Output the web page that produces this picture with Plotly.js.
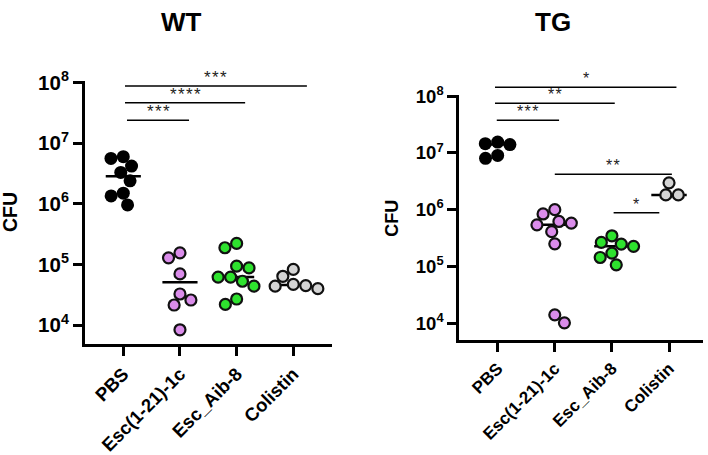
<!DOCTYPE html>
<html>
<head>
<meta charset="utf-8">
<script src="https://cdn.plot.ly/plotly-3.0.1.min.js"></script>
<style>
  html, body { margin: 0; padding: 0; background: #ffffff; }
  #chart { width: 708px; height: 455px; }
</style>
</head>
<body>
<div id="chart"></div>
<script>
// Treatment groups (x categories)
const groups = ['PBS', 'Esc(1-21)-1c', 'Esc_Aib-8', 'Colistin'];

// WT mice: CFU per animal
const wtPBS      = [6.0e6, 5.6e6, 4.2e6, 3.3e6, 2.4e6, 1.5e6, 1.35e6, 9.6e5];
const wtEsc1c    = [1.56e5, 1.29e5, 7.0e4, 3.27e4, 2.6e4, 2.15e4, 8.4e3];
const wtAib8     = [2.23e5, 1.89e5, 9.4e4, 8.8e4, 6.2e4, 5.3e4, 6.2e4, 4.4e4, 2.7e4, 2.2e4];
const wtColistin = [8.3e4, 6.4e4, 4.7e4, 4.5e4, 4.4e4, 4.0e4];
const wtCenter   = [2.85e6, 5.1e4, 6.2e4, 4.6e4];

// TG mice: CFU per animal
const tgPBS      = [1.45e7, 1.40e7, 1.55e7, 9.0e6, 8.0e6];
const tgEsc1c    = [1.0e6, 8.4e5, 6.2e5, 5.4e5, 5.8e5, 4.1e5, 2.5e5, 1.41e4, 1.02e4];
const tgAib8     = [3.47e5, 2.65e5, 2.48e5, 2.26e5, 1.72e5, 1.44e5, 1.07e5];
const tgColistin = [2.97e6, 1.82e6, 1.82e6];
const tgCenter   = [1.40e7, 5.4e5, 2.26e5, 1.82e6];

// Pairwise comparisons (group indices) and their significance
const wtSig = [
  { from: 0, to: 3, label: '***' },
  { from: 0, to: 2, label: '****' },
  { from: 0, to: 1, label: '***' }
];
const tgSig = [
  { from: 0, to: 3, label: '*' },
  { from: 0, to: 2, label: '**' },
  { from: 0, to: 1, label: '***' },
  { from: 1, to: 3, label: '**' },
  { from: 2, to: 3, label: '*' }
];

// ---- styling / geometry ----
const W = 708, H = 455;
const FONT = 'Liberation Sans, Arial, Helvetica, sans-serif';
const fillColors = ['#000000', '#da8cea', '#2ee22e', '#d4d4d4'];
const edgeColors = ['#000000', '#111111', '#111111', '#111111'];

const panels = [
  {
    name: 'WT', sets: [wtPBS, wtEsc1c, wtAib8, wtColistin], center: wtCenter, sig: wtSig,
    box: { left: 85, right: 332, top: 80.7, bottom: 344 },
    xRange: [-0.676, 3.683], yRange: [3.69, 8.03],
    tickSize: 20.5, catSize: 18.5, titleSize: 26, cfuSize: 19.5, starSize: 17,
    title: { x: 181, y: 22 }, cfu: { x: 10, y: 212 },
    // bracket rows: pixel height and horizontal pads (category units)
    bars: [
      { y: 86,    pad0: 0.03,  pad1: 0.24 },
      { y: 102.7, pad0: 0.03,  pad1: 0.15 },
      { y: 120.3, pad0: 0.065, pad1: 0.16 }
    ]
  },
  {
    name: 'TG', sets: [tgPBS, tgEsc1c, tgAib8, tgColistin], center: tgCenter, sig: tgSig,
    box: { left: 459.3, right: 703, top: 95, bottom: 340 },
    xRange: [-0.672, 3.595], yRange: [3.706, 8.018],
    tickSize: 18.5, catSize: 17, titleSize: 26, cfuSize: 18, starSize: 16,
    title: { x: 553, y: 22 }, cfu: { x: 391.7, y: 218 },
    bars: [
      { y: 87.3,  pad0: -0.047, pad1: 0.13 },
      { y: 103.3, pad0: -0.047, pad1: 0.05 },
      { y: 120.3, pad0: -0.016, pad1: 0.075 },
      { y: 174.3, pad0: 0.0,    pad1: 0.05 },
      { y: 212.7, pad0: 0.03,   pad1: -0.17 }
    ]
  }
];

// Greedy beeswarm: place each point at the smallest horizontal offset
// that does not overlap the dots already placed (pixel space).
function swarmOffsets(values, pxPerCat, pxPerDec, diam) {
  const order = values.map((v, i) => i).sort((a, b) => values[b] - values[a]);
  const placed = [];
  const off = new Array(values.length).fill(0);
  let lastSign = 1;
  order.forEach(i => {
    const y = Math.log10(values[i]) * pxPerDec;
    const cands = [0];
    placed.forEach(p => {
      const dy = y - p.y;
      if (Math.abs(dy) < diam) {
        const dx = Math.sqrt(diam * diam - dy * dy);
        cands.push(p.x + dx, p.x - dx);
      }
    });
    const ok = cands.filter(x => placed.every(p => (x - p.x) ** 2 + (y - p.y) ** 2 >= diam * diam - 1e-6));
    ok.sort((a, b) => {
      const d = Math.abs(a) - Math.abs(b);
      if (Math.abs(d) > 0.5) return d;
      return (Math.sign(b) === -lastSign) - (Math.sign(a) === -lastSign);
    });
    const x = ok[0];
    if (x !== 0) lastSign = Math.sign(x);
    placed.push({ x, y });
    off[i] = x / pxPerCat;
  });
  return off;
}

const traces = [];
const shapes = [];
const annotations = [];
const layout = {
  width: W, height: H,
  margin: { l: 0, r: 0, t: 0, b: 0 },
  paper_bgcolor: '#ffffff', plot_bgcolor: '#ffffff',
  showlegend: false,
  font: { family: FONT, color: '#000000' }
};

panels.forEach((pn, k) => {
  const xa = k === 0 ? 'x' : 'x2';
  const ya = k === 0 ? 'y' : 'y2';
  const b = pn.box;
  const pxPerCat = (b.right - b.left) / (pn.xRange[1] - pn.xRange[0]);
  const pxPerDec = (b.bottom - b.top) / (pn.yRange[1] - pn.yRange[0]);

  // median lines (behind dots)
  pn.center.forEach((c, g) => {
    traces.push({
      type: 'scatter', mode: 'lines', xaxis: xa, yaxis: ya,
      x: [g - 0.31, g + 0.31], y: [c, c],
      line: { color: '#000000', width: 2.5 }, hoverinfo: 'skip'
    });
  });

  // individual animals
  pn.sets.forEach((vals, g) => {
    const off = swarmOffsets(vals, pxPerCat, pxPerDec, 12.5);
    traces.push({
      type: 'scatter', mode: 'markers', xaxis: xa, yaxis: ya,
      x: vals.map((v, i) => g + off[i]), y: vals,
      marker: {
        size: g === 0 ? 13 : 11,
        color: fillColors[g],
        line: { color: edgeColors[g], width: g === 0 ? 0 : 2.2 }
      },
      cliponaxis: false
    });
  });

  const axBase = {
    showline: true, linewidth: 3, linecolor: '#000000',
    ticks: 'outside', ticklen: 9, tickwidth: 3, tickcolor: '#000000',
    showgrid: false, zeroline: false, fixedrange: true
  };
  const xKey = k === 0 ? 'xaxis' : 'xaxis2';
  const yKey = k === 0 ? 'yaxis' : 'yaxis2';
  layout[xKey] = Object.assign({}, axBase, {
    domain: [b.left / W, b.right / W], anchor: ya,
    range: pn.xRange, tickmode: 'array', tickvals: [0, 1, 2, 3],
    ticktext: groups.map(s => '<b>' + s + '</b>'),
    tickangle: -45, tickfont: { family: FONT, size: pn.catSize, color: '#000000' }
  });
  const decades = [1e4, 1e5, 1e6, 1e7, 1e8];
  layout[yKey] = Object.assign({}, axBase, {
    domain: [1 - b.bottom / H, 1 - b.top / H], anchor: xa,
    type: 'log', range: pn.yRange, tickmode: 'array', tickvals: decades,
    ticktext: decades.map(d => '<b>10<sup>' + Math.round(Math.log10(d)) + '</sup></b>'),
    tickfont: { family: FONT, size: pn.tickSize, color: '#000000' }
  });

  // significance brackets
  const catToPx = c => b.left + (c - pn.xRange[0]) * pxPerCat;
  pn.sig.forEach((s, i) => {
    const geo = pn.bars[i];
    const x0 = catToPx(s.from + geo.pad0);
    const x1 = catToPx(s.to + geo.pad1);
    shapes.push({
      type: 'line', xref: 'paper', yref: 'paper',
      x0: x0 / W, x1: x1 / W, y0: 1 - geo.y / H, y1: 1 - geo.y / H,
      line: { color: '#000000', width: 1.6 }
    });
    annotations.push({
      xref: 'paper', yref: 'paper',
      x: (x0 + x1) / 2 / W, y: 1 - (geo.y - 8.5) / H,
      xanchor: 'center', yanchor: 'middle', showarrow: false,
      text: s.label.split('').join('\u200a'),
      font: { family: FONT, size: pn.starSize, color: '#222222' }
    });
  });

  // panel title and y-axis title
  annotations.push({
    xref: 'paper', yref: 'paper', x: pn.title.x / W, y: 1 - pn.title.y / H,
    xanchor: 'center', yanchor: 'middle', showarrow: false,
    text: '<b>' + pn.name + '</b>', font: { family: FONT, size: pn.titleSize, color: '#000000' }
  });
  annotations.push({
    xref: 'paper', yref: 'paper', x: pn.cfu.x / W, y: 1 - pn.cfu.y / H,
    xanchor: 'center', yanchor: 'middle', showarrow: false, textangle: -90,
    text: '<b>CFU</b>', font: { family: FONT, size: pn.cfuSize, color: '#000000' }
  });
});

layout.shapes = shapes;
layout.annotations = annotations;

Plotly.newPlot('chart', traces, layout, { staticPlot: true, displayModeBar: false });
</script>
</body>
</html>
